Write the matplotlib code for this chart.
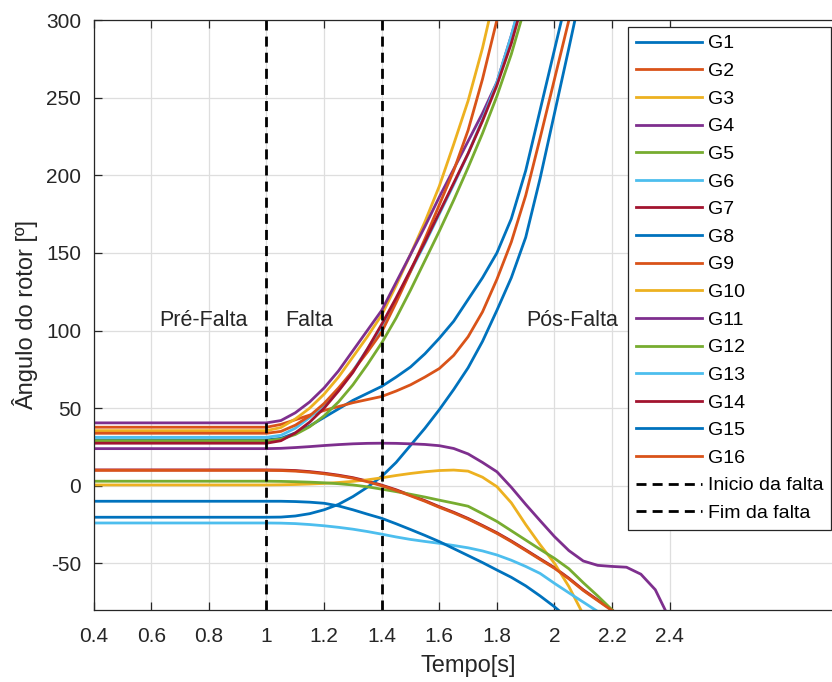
import numpy as np
import matplotlib.pyplot as plt

plt.rcParams['font.family'] = ['Liberation Sans', 'DejaVu Sans']
plt.rcParams['axes.unicode_minus'] = False

# time grid [s]: pre-fault flat from 0.4 to 1.0, then every 0.05 s
t = [0.4, 1.0, 1.05, 1.1, 1.15, 1.2, 1.25, 1.3, 1.35, 1.4, 1.45, 1.5, 1.55,
     1.6, 1.65, 1.7, 1.75, 1.8, 1.85, 1.9, 1.95, 2.0, 2.05, 2.1, 2.15, 2.2,
     2.25, 2.3, 2.35, 2.4]

# rotor angles [deg] (lists end once the curve leaves the plot)
G1 = [29.5, 29.5, 30.5, 34, 38.5, 44, 49.5, 55, 59.5, 64, 70, 76.5, 85, 95,
      106, 120, 134, 150, 172, 203, 242, 281, 320]
G2 = [37.7, 37.7, 39.5, 42.5, 45.5, 48.5, 51, 53.5, 55.5, 57.5, 61, 65, 70,
      75.5, 84, 96, 112, 133, 157, 187, 224, 262, 300, 340]
G3 = [35.5, 35.5, 37.5, 43, 50, 59, 70, 83, 96, 110, 129, 149, 170, 193, 220,
      248, 282, 322]
G4 = [40.5, 40.5, 42, 47, 54, 63, 74, 87, 100, 113, 131, 149, 167, 186, 204,
      222, 240, 260, 290, 322]
G5 = [29, 29, 30, 33, 38, 45, 54, 65, 78, 92, 108, 126, 145, 164, 184, 205,
      227, 251, 278, 310]
G6 = [31.2, 31.2, 32.5, 37, 44, 52, 62, 74, 88, 102, 120, 138, 156, 175, 194,
      214, 236, 260, 290, 325]
G7 = [10.2, 10.2, 10.1, 9.8, 9.1, 8.1, 6.8, 5.2, 3.0, 0.4, -2.6, -6.1, -9.6,
      -13.5, -17.1, -21.1, -25.6, -30.3, -35.6, -41.3, -47.1, -52.8, -59.6,
      -67.1, -73.6, -80.1, -87]
G8 = [-20.3, -20.3, -20.2, -19.5, -18, -15.5, -12, -7, -1, 6, 15, 26, 37, 49,
      62, 76, 93, 113, 134, 160, 198, 240, 282, 325]
G9 = [33.8, 33.8, 35, 39, 45, 53, 63, 74, 86, 99, 118, 138, 159, 181, 203,
      229, 262, 300, 345]
G10 = [0.5, 0.5, 0.6, 0.8, 1.1, 1.5, 2.1, 2.8, 3.8, 5.1, 6.6, 7.9, 9.0, 9.8,
       10.1, 9.4, 5.5, -0.6, -11, -25, -38, -50, -65, -83]
G11 = [23.9, 23.9, 24.1, 24.6, 25.2, 25.9, 26.5, 27.0, 27.3, 27.4, 27.3, 27.0,
       26.6, 25.8, 24, 20.5, 15, 9, -1, -12, -22.5, -32.8, -41.8, -48.5,
       -51.3, -52, -52.5, -57, -67, -86]
G12 = [2.9, 2.9, 2.8, 2.6, 2.3, 1.9, 1.3, 0.5, -0.7, -2.2, -3.8, -5.5, -7.3,
       -9.3, -11.2, -13.2, -18, -23, -29, -35, -41, -46.8, -53.5, -62.5, -71,
       -80, -89]
G13 = [-24, -24, -24.1, -24.4, -25, -25.8, -26.8, -28, -29.5, -31.2, -33,
       -34.6, -35.9, -37.1, -38.5, -40, -42, -44.6, -48, -52, -56.5, -62.9,
       -69, -75, -81]
G14 = [27.4, 27.4, 29, 34, 41, 50, 61, 73, 88, 104, 121, 139, 157, 176, 195,
       214, 235, 258, 285, 318]
G15 = [-10, -10, -10, -10.2, -10.6, -11.3, -13, -15.5, -18.3, -21, -24.5,
       -28.2, -32, -36, -40.5, -45, -49.5, -54.3, -59, -64.5, -71, -78, -86]
G16 = [9.9, 9.9, 9.8, 9.4, 8.7, 7.7, 6.4, 4.8, 2.6, 0.0, -3, -6.5, -10, -13.9,
       -17.5, -21.5, -26, -30.7, -36, -41.7, -47.5, -53.2, -60, -67.5, -74,
       -80.5, -87.5]

series = [G1, G2, G3, G4, G5, G6, G7, G8, G9, G10, G11, G12, G13, G14, G15, G16]
names = ['G%d' % (i + 1) for i in range(16)]

fault_start = 1.0
fault_end = 1.4

# MATLAB default color order
colors = ['#0072BD', '#D95319', '#EDB120', '#7E2F8E', '#77AC30', '#4DBEEE', '#A2142F']

fig = plt.figure(figsize=(8.32, 6.82), dpi=100)
ax = fig.add_axes([93.7 / 832, 72.1 / 682, 748.8 / 832, 589.8 / 682])

for i, (vals, name) in enumerate(zip(series, names)):
    ax.plot(t[:len(vals)], vals, color=colors[i % 7], lw=2.0, label=name)

ax.axvline(fault_start, color='k', ls=(0, (3.6, 2.2)), lw=2.0, label='Inicio da falta')
ax.axvline(fault_end, color='k', ls=(0, (3.6, 2.2)), lw=2.0, label='Fim da falta')

ax.text(0.78, 103, 'Pré-Falta', fontsize=15.5, ha='center', va='baseline', color='#262626')
ax.text(1.148, 103, 'Falta', fontsize=15.5, ha='center', va='baseline', color='#262626')
ax.text(2.06, 103, 'Pós-Falta', fontsize=15.5, ha='center', va='baseline', color='#262626')

ax.set_xlim(0.4, 3.0)
ax.set_ylim(-80, 300)
ax.set_xticks([0.4, 0.6, 0.8, 1.0, 1.2, 1.4, 1.6, 1.8, 2.0, 2.2, 2.4])
ax.set_xticklabels(['0.4', '0.6', '0.8', '1', '1.2', '1.4', '1.6', '1.8', '2', '2.2', '2.4'])
ax.set_yticks([-50, 0, 50, 100, 150, 200, 250, 300])
ax.grid(True, color='#dedede', lw=0.9)
ax.set_axisbelow(True)
ax.tick_params(direction='in', length=6, width=0.9, colors='#262626',
               labelsize=15, top=True, right=True)
ax.tick_params(axis='y', pad=9)
ax.tick_params(axis='x', pad=12)
for s in ax.spines.values():
    s.set_color('#262626')
    s.set_linewidth(0.9)

ax.set_xlabel('Tempo[s]', fontsize=17, color='#262626', labelpad=7)
ax.set_ylabel('Ângulo do rotor [º]', fontsize=17, color='#262626', labelpad=6)

leg = fig.legend(loc='upper left', bbox_to_anchor=(627.7 / 832, 1 - 26.7 / 682),
                 borderaxespad=0, fontsize=14, handlelength=3.4, handletextpad=0.3,
                 labelspacing=0.515, borderpad=0.42, fancybox=False, framealpha=1)
leg.get_frame().set_edgecolor('#262626')
leg.get_frame().set_linewidth(0.9)

fig.savefig('out.png', dpi=100)
